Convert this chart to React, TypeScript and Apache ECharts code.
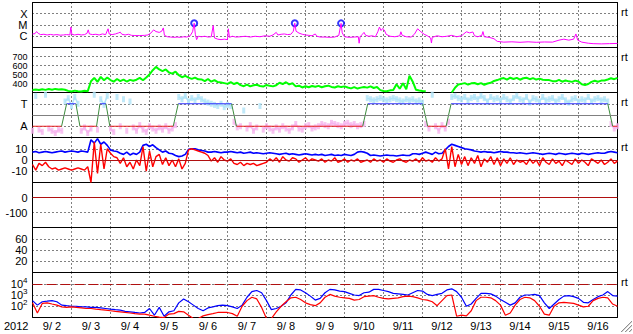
import React, { useEffect, useRef } from "react";
import * as echarts from "echarts";

const FONT = "'Liberation Sans', Arial, sans-serif";

// ---------- labels ----------
const dayLabels = ["9/ 2", "9/ 3", "9/ 4", "9/ 5", "9/ 6", "9/ 7", "9/ 8", "9/ 9", "9/10", "9/11", "9/12", "9/13", "9/14", "9/15", "9/16"];
const yearLabel = "2012";
const xrayClassLabels: Record<string, string> = { "-4": "X", "-5": "M", "-6": "C" };
const sideLabel = "rt";

// ---------- data ----------
// X-ray flux [hour since 9/2 00UT, W/m^2]
const xrayFlux: [number, number][] = [
  [0, 1.6e-6], [1.5, 1.7e-6], [2.5, 2.6e-6], [3.5, 1.8e-6], [5, 1.4e-6], [7, 1.5e-6], [9, 1.3e-6], [11, 1.45e-6], [13, 1.3e-6], [15, 1.4e-6],
  [17, 1.25e-6], [19, 1.3e-6], [21, 1.4e-6], [23, 1.3e-6], [23.6, 6.5e-6], [24.2, 1.5e-6], [26, 1.3e-6], [28, 1.5e-6], [30, 1.3e-6], [32, 1.4e-6],
  [33.5, 1.8e-6], [34.3, 3.7e-6], [35, 1.6e-6], [37, 1.4e-6], [39, 1.5e-6], [41, 1.3e-6], [43, 1.6e-6], [45, 1.4e-6], [46.5, 4.6e-6], [47.2, 1.6e-6],
  [49, 1.4e-6], [51, 1.6e-6], [53, 2.0e-6], [54, 2.3e-6], [55, 1.5e-6], [57, 1.3e-6], [59, 1.5e-6], [61, 1.2e-6], [63, 1.15e-6], [66, 1.15e-6],
  [69, 1.2e-6], [71, 1.3e-6], [73, 2.0e-6], [74.5, 3.7e-6], [76, 2.6e-6], [78, 2.2e-6], [79.5, 2.8e-6], [80.5, 5.5e-6], [81.2, 1.2e-6], [83, 9e-7],
  [85, 8.5e-7], [87, 8e-7], [89, 8.5e-7], [91, 8e-7], [93, 9e-7], [95, 8.5e-7], [97, 1.1e-6], [98.5, 2.5e-6], [99.5, 1.45e-5], [100.2, 1.5e-6],
  [101, 5e-7], [102, 1.0e-6], [104, 9e-7], [106, 1.0e-6], [108, 8.5e-7], [110, 9e-7], [111.2, 9e-6], [112, 7e-7], [114, 5.5e-7], [116, 5e-7],
  [118, 5.5e-7], [120, 5e-7], [120.5, 4.6e-6], [121.2, 8e-7], [123, 1.0e-6], [125, 8.5e-7], [128, 9e-7], [131, 1.0e-6], [134, 8.5e-7], [137, 1.0e-6],
  [140, 9e-7], [143, 1.1e-6], [146, 1.0e-6], [148, 1.3e-6], [150, 2.2e-6], [151, 1.3e-6], [153, 1.5e-6], [155, 1.6e-6], [157, 1.4e-6], [159, 1.5e-6],
  [160.5, 2.8e-6], [161.4, 1.45e-5], [162.2, 2.8e-6], [164, 1.9e-6], [166, 1.5e-6], [168, 1.3e-6], [170, 1.2e-6], [172, 1.1e-6], [174, 1.6e-6], [175, 1.0e-6],
  [177, 8.5e-7], [180, 8.5e-7], [183, 8e-7], [186, 8.5e-7], [188.5, 1.2e-6], [189.9, 1.4e-5], [190.6, 2e-6], [192, 9e-7], [195, 8e-7], [198, 8.5e-7],
  [200.5, 9e-7], [201, 2.4e-7], [201.6, 9e-7], [203, 1.5e-6], [204, 2.2e-6], [205, 1.2e-6], [207, 1e-6], [209, 1.1e-6], [211, 9e-7], [212.5, 2.5e-6],
  [213.5, 6.5e-6], [214.5, 3.2e-6], [215.5, 5e-6], [216.5, 3.6e-6], [217.6, 1.5e-6], [220, 1.0e-6], [223, 9e-7], [226, 1.1e-6], [226.7, 2.5e-6], [227.5, 1.2e-6],
  [230, 9e-7], [233, 8.5e-7], [235, 1.5e-6], [237, 4.6e-6], [239, 2.5e-6], [241, 1.5e-6], [243, 1.1e-6], [245, 7e-7], [245.5, 2.5e-7], [246, 8e-7],
  [249, 1.1e-6], [252, 9e-7], [255, 1.0e-6], [258, 1.2e-6], [261, 9e-7], [264, 1.1e-6], [267, 2.5e-6], [269, 2.0e-6], [271, 2.4e-6], [272, 1.1e-6],
  [274, 9e-7], [276.5, 1.2e-6], [277.2, 2.6e-6], [278, 9e-7], [281, 8e-7], [284, 6e-7], [286, 3.5e-7], [290, 3e-7], [295, 3.2e-7], [300, 2.9e-7],
  [305, 3.2e-7], [310, 2.9e-7], [315, 3.1e-7], [320, 3.0e-7], [324, 4.5e-7], [327, 5.5e-7], [330, 4.5e-7], [333, 5.5e-7], [334.4, 1.6e-6], [335.5, 4.5e-7],
  [338, 3e-7], [342, 2.4e-7], [345, 2.2e-7], [350, 2.1e-7], [355, 2.2e-7], [360, 2.3e-7],
];
// M-class flare peaks [hour, W/m^2]
const flareEvents: [number, number][] = [[99.5, 1.45e-5], [161.4, 1.45e-5], [189.9, 1.4e-5]];

// Solar wind speed km/s, every 2 hours from 9/2 00UT (null = no data)
const windSpeed: (number | null)[] = [
  328, 334, 327, 336, 329, 338, 331, 340, 333, 337, 330,
  318, 312, 321, 314, 311, 319, 315,
  425, 462, 418, 474, 436, 466,
  438, 420, 450, 426, 444, 422, 440, 430,
  442, 462, 436, 466,
  500, 548, 585, 556, 538, 556,
  522, 510, 532,
  492, 470, 484, 466,
  452, 466, 446,
  445, 426, 450, 420, 438, 416, 412,
  404, 396, 414, 394, 408,
  382, 370, 388, 368, 380, 386, 372, 366, 384, 374, 368, 380,
  408, 394, 414, 390, 402,
  368, 376, 356, 370, 358, 372,
  364, 374, 358, 370, 376, 362, 356, 370, 360, 368,
  356, 346, 360, 344, 354,
  362, 354, 368, 350, 362,
  326, 316, 314, 324, 328,
  392, 342, 404, 336,
  486, 420,
  330, 322, 316, 314,
  null, null, null, null, null, null, null,
  300, 352, 388,
  396, 404, 388, 402, 406, 392, 404, 386, 400, 408,
  428, 438,
  452, 460, 444, 464, 450, 462, 442, 458, 464, 448, 460, 444, 454, 442, 438,
  438, 426, 424, 440, 420, 434, 424, 418, 432, 422,
  392, 384, 394,
  418, 430, 420, 432, 434,
  444, 458, 448, 462,
];

// IMF direction indicator (+ toward / - away), every 2 hours
const imfPhi: number[] = [
  -0.7, 0.85, -0.65, -0.75, 0.9, -0.6, -0.7, -0.8, -0.65, -0.7,
  0.6, 0.75, 0.4, 0.8, 0.5,
  -0.7, -0.55, -0.8, -0.6, 0.9, -0.65,
  0.7, 0.45, 0.85,
  -0.6, -0.75, 0.8, -0.5, 0.7, -0.7, 0.6,
  -0.55, -0.7, -0.45, -0.65, -0.75, -0.5, -0.6, -0.7, -0.55, -0.65, -0.5, -0.7, -0.6, -0.45,
  0.8, 0.7, 0.85, 0.6, 0.75, 0.65, 0.8, 0.7, 0.6, 0.55, 0.5, 0.45, 0.4, 0.5, 0.35, 0.45, 0.4,
  -0.3, -0.55, -0.5, 0.2, -0.6, -0.45, -0.7, -0.55, 0.4, -0.65, -0.5, -0.6, -0.7, -0.55, -0.65, -0.5, -0.6, -0.7, -0.55, -0.4,
  -0.6, -0.65, -0.5, -0.45, -0.6, -0.55, -0.5, -0.4, -0.45, -0.5, -0.35, -0.4, -0.45, -0.5, -0.4, -0.35, -0.45, -0.4, -0.5, -0.45, -0.4,
  0.75, 0.7, 0.65, 0.7, 0.75, 0.7, 0.65, 0.7, 0.75, 0.7, 0.65, 0.6, 0.7, 0.65, 0.7, 0.6, 0.65, 0.55,
  -0.4, -0.6, 0.9, -0.5, -0.7, -0.45, -0.6, -0.3,
  0.8, 0.85, 0.75, 0.7, 0.8, 0.65, 0.75, 0.8, 0.7, 0.85, 0.75, 0.6, 0.8, 0.7, 0.75, 0.65, 0.8, 0.7, 0.6, 0.75,
  0.85, 0.7, 0.65, 0.8, 0.55, 0.75, 0.7, 0.6, 0.8, 0.65, 0.7, 0.75, 0.6, 0.7, 0.8, 0.65, 0.55, 0.7, 0.75, 0.6,
  0.7, 0.65, 0.8, 0.6, 0.7, 0.75, 0.65, 0.7, 0.6,
  -0.4, -0.6, -0.5,
];

// Sector polarity plateaus (hours)
const sectorStart = [0, 21, 29.2, 41.5, 47.6, 89.7, 125.5, 206.3, 243.2, 257.6, 357];
const sectorEnd = [17.9, 26.7, 39.4, 45.2, 86.6, 122.5, 203.2, 240.1, 254.5, 354, 360];
const sectorPolarity = ["A", "T", "A", "T", "A", "T", "A", "T", "A", "T", "A"];
const polarityLevel: Record<string, number> = { T: 0.5, A: -0.5 };

// IMF Bz (nT), every 2 hours
const imfBz: number[] = [
  -4, -9, -3, -5, -2,
  -6, -8, -7, -9, -8, -7, -8, -9, -8, -7, -8, -9, -6,
  -20, 16, -12, 14, -8, 10,
  6, 3, 2,
  -3, 2, -6, -2, -8, 0, -5,
  12, -10, 8, -6, 3,
  5, -4, 2, -5, 0,
  -6, 1, -8, -3,
  9, 10, 9, 8, 7, 6,
  4, -1, 2, -2, 3, 0, -1, 1,
  -3, -4, -2, -5, -3, -4, -3, -5, -4, -3, -2,
  1, -1, 2, -2, 3, 0, -1, 2, 1, -2, 0, 2, -1, 1, 0,
  -1, 1, -2, 0, -1, 2, -2, -1, 1, -2, 0, -1, 1, -2, -1, 0, -2, 1, -1, 0, -2, 1, -1, -2, 0, 1, -1, -2, 0, -1,
  1, -2, 2, -1, 0, -2, 2, -1, 1,
  10, -8, 12, -6, 5,
  -4, 3, -5, 2, -3, 4, -6, 1, -2, 3, -4, 2, -5, 1, -3, 2, -4, 0, -2,
  -1, -4, 1, -3, 0, -5, 2, -2, -4, 1, -3, -1, -5, 0, -2, -4, 1, -3, 0, -2, -5, 1, -1, -3, 0, -4, -2, 1, -3, -1,
];
// IMF Bt (nT), every 2 hours
const imfBt: number[] = [
  7, 7.5, 6.5, 7, 7.5, 7, 6.5, 7, 7.5, 8, 7, 7.5, 8, 7.5, 7, 8, 7.5, 7,
  18, 15, 19, 14, 16, 13,
  9, 8, 7.5,
  6, 5, 7, 4.5, 6, 5, 7,
  13, 14, 12, 13.5, 11,
  9, 7, 8, 6, 5.5,
  4, 3, 3.5, 5,
  9.5, 10, 10, 9, 8.5, 8,
  7, 7, 7.5, 7, 6.5, 7, 7, 7.5,
  7, 6.5, 7, 6, 6.5, 7, 6, 6.5, 6, 5.5, 6, 6.5, 6, 5.5, 5, 5.5, 6, 5, 5.5, 5, 4.5, 5, 5.5, 5, 4.5, 5,
  4.5, 5, 4, 4.5, 5, 4, 4.5, 4, 5, 4.5, 4, 5,
  7, 7.5, 7, 6,
  4, 4.5, 4, 3.5, 4, 4.5, 4, 4, 3.5, 4, 4.5, 4, 4,
  5.5, 5.5, 5, 6, 7, 6, 5, 7, 5.5, 6,
  9, 12, 14, 13,
  12, 11, 10, 9.5, 9,
  8, 7.5, 7, 7.5, 7, 7, 6.5, 7, 7.5, 7, 7, 6.5,
  6.5, 6, 6.5, 6, 5.5, 6, 6.5, 6, 5.5, 5, 5.5, 6, 5.5, 5, 6, 5.5, 5, 5.5, 6, 5.5, 5, 6, 5.5, 5, 5.5, 6, 6.5, 6, 6,
  7, 7.5, 7, 6.5,
];

// Electron flux, every 3 hours (higher curve blue, lower curve red)
const electronBlue: number[] = [
  316, 126, 250, 280, 316, 250, 126, 112, 100, 100, 89, 89, 79, 79, 71, 63, 56, 50, 45, 35,
  32, 28, 25, 28, 63, 16, 79, 13, 32, 40, 200, 447, 250, 126, 63, 40, 71, 89, 112, 126,
  112, 89, 63, 126, 631, 2000, 2500, 1585, 316, 50, 63, 100, 200, 1000, 3162, 2818, 1585, 794, 355,
  500, 1585, 3162, 2818, 2239, 2000, 1413, 1000, 891, 1585, 1778, 3162, 3162, 2512, 2000, 1413, 1259, 1122, 1000, 1585,
  2512, 2239, 1122, 891, 1122, 1413, 2818, 3548, 2000, 631, 100, 158, 501, 1413, 1413, 1259, 794, 398, 224, 126,
  200, 631, 1000, 1000, 1122, 891, 200, 63, 158, 398, 794, 891, 708, 501, 224, 200, 398, 708, 1000, 2000,
  891, 794,
];
const electronRed: number[] = [
  200, 25, 178, 200, 158, 126, 89, 79, 89, 79, 71, 63, 63, 56, 50, 45, 40, 35, 32, 28,
  25, 22, 20, 20, 16, 13, 11, 10, 20, 22, 35, 32, 16, 8, 8, 14, 18, 22, 28, 28,
  28, 22, 13, 100, 316, 631, 447, 79, 8, 8, 32, 100, 250, 562, 631, 398, 200, 141, 112,
  200, 631, 1122, 794, 631, 562, 501, 355, 398, 708, 794, 891, 631, 501, 447, 501, 562, 708, 794, 708,
  562, 398, 355, 251, 112, 316, 891, 1000, 13, 16, 14, 40, 316, 631, 631, 562, 316, 126, 16, 25,
  126, 398, 631, 562, 316, 100, 20, 16, 100, 200, 224, 200, 178, 126, 89, 100, 316, 501, 631, 562,
  158, 100,
];

// ---------- layout ----------
const PANEL_TOPS = [2.5, 47.5, 92.5, 137.5, 182.5, 227.5, 272.5];
const PANEL_H = 45;
const RT_PANELS = [0, 1, 2, 3, 6];

function series2h(vals: (number | null)[]) {
  return vals.map((v, i) => [i * 2, v]);
}
function series3h(vals: number[]) {
  return vals.map((v, i) => [i * 3, v]);
}

function buildOption() {
  const dotted = { color: "#000", type: [1, 3], width: 1 };
  const labelBase = { color: "#000", fontSize: 11, fontFamily: FONT, margin: 5 };

  const grid = PANEL_TOPS.map((t) => ({
    left: 32.5, right: 15.5, top: t, height: PANEL_H,
    show: true, borderColor: "#000", borderWidth: 1, backgroundColor: "transparent",
  }));

  const xAxis: any[] = PANEL_TOPS.map((_, i) => ({
    type: "value", gridIndex: i, min: 0, max: 360, interval: 24, position: "bottom",
    axisLine: { show: false }, axisTick: { show: false }, axisLabel: { show: false },
    splitLine: { show: true, lineStyle: dotted },
  }));
  xAxis.push({
    type: "category", gridIndex: 6, data: dayLabels, boundaryGap: true, position: "bottom",
    axisLine: { show: false }, axisTick: { show: false }, splitLine: { show: false },
    axisLabel: { ...labelBase, margin: 3, interval: 0 },
  });

  const yBase = (i: number) => ({
    gridIndex: i, axisLine: { show: false }, axisTick: { show: false },
    splitLine: { show: true, lineStyle: dotted },
  });

  const yAxis: any[] = [
    { ...yBase(0), type: "log", logBase: 10, min: 1e-7, max: 1e-3,
      axisLabel: { ...labelBase, formatter: (v: number) => xrayClassLabels[String(Math.round(Math.log10(v)))] ?? "" } },
    { ...yBase(1), type: "value", min: 300, max: 800, interval: 100,
      axisLabel: { ...labelBase, fontSize: 9, lineHeight: 9, formatter: (v: number) => (v > 300 && v < 800 ? String(v) : "") } },
    { ...yBase(2), type: "value", min: -1, max: 1, interval: 0.5,
      axisLabel: { ...labelBase, formatter: (v: number) => (v === 0.5 ? "T" : v === -0.5 ? "A" : "") } },
    { ...yBase(3), type: "value", min: -20, max: 20, interval: 10,
      axisLabel: { ...labelBase, formatter: (v: number) => (Math.abs(v) < 20 ? String(v) : "") } },
    { ...yBase(4), type: "value", min: -200, max: 100, interval: 100,
      axisLabel: { ...labelBase, formatter: (v: number) => (v === 0 || v === -100 ? String(v) : "") } },
    { ...yBase(5), type: "value", min: 0, max: 80, interval: 20,
      axisLabel: { ...labelBase, formatter: (v: number) => (v > 0 && v < 80 ? String(v) : "") } },
    { ...yBase(6), type: "log", logBase: 10, min: 10, max: 1e5,
      axisLabel: {
        ...labelBase,
        formatter: (v: number) => {
          const e = Math.round(Math.log10(v));
          return e >= 2 && e <= 4 ? `{b|10}{s|${e}}` : "";
        },
        rich: {
          b: { fontSize: 11, fontFamily: FONT, color: "#000", lineHeight: 15, verticalAlign: "middle" },
          s: { fontSize: 8, fontFamily: FONT, color: "#000", lineHeight: 8, verticalAlign: "top" },
        },
      } },
  ];

  const hline = (y: number, color: string, type: any = "solid") => ({
    silent: true, symbol: ["none", "none"], label: { show: false }, animation: false,
    lineStyle: { color, type, width: 1 }, emphasis: { disabled: true },
    data: [{ yAxis: y }],
  });

  // sector line segments
  const redSeg: any[] = [];
  const blueSeg: any[] = [];
  const greenSeg: any[] = [];
  sectorStart.forEach((s, i) => {
    const lv = polarityLevel[sectorPolarity[i]];
    const target = sectorPolarity[i] === "A" ? redSeg : blueSeg;
    target.push([s, lv], [sectorEnd[i], lv], [sectorEnd[i], null]);
    if (i < sectorStart.length - 1) {
      const nlv = polarityLevel[sectorPolarity[i + 1]];
      greenSeg.push([sectorEnd[i], lv], [sectorStart[i + 1], nlv], [sectorStart[i + 1], null]);
    }
  });

  const phiPairs = series2h(imfPhi);
  const toward = phiPairs.filter((p) => (p[1] as number) > 0);
  const away = phiPairs.filter((p) => (p[1] as number) < 0);
  const towardLine = phiPairs.map((p) => [p[0], (p[1] as number) > 0 ? p[1] : null]);
  const awayLine = phiPairs.map((p) => [p[0], (p[1] as number) < 0 ? p[1] : null]);

  const line = (xi: number, data: any[], color: string, width = 1, extra: any = {}) => ({
    type: "line", xAxisIndex: xi, yAxisIndex: xi, data, showSymbol: false, symbol: "none",
    lineStyle: { color, width }, itemStyle: { color }, clip: true, silent: true, ...extra,
  });

  const TOWARD_C = "#b0e4f8";
  const AWAY_C = "#f6b4ee";

  const series: any[] = [
    line(0, xrayFlux, "#ff00ff", 1),
    {
      type: "scatter", xAxisIndex: 0, yAxisIndex: 0, data: flareEvents, symbol: "emptyCircle", symbolSize: 6,
      itemStyle: { color: "#0000ff", borderColor: "#0000ff", borderWidth: 1.2 }, silent: true,
    },
    line(1, series2h(windSpeed), "#00ff00", 2),
    {
      type: "scatter", xAxisIndex: 2, yAxisIndex: 2, data: toward, symbol: "rect", symbolSize: [3, 6],
      itemStyle: { color: TOWARD_C }, silent: true,
    },
    {
      type: "scatter", xAxisIndex: 2, yAxisIndex: 2, data: away, symbol: "rect", symbolSize: [3, 6],
      itemStyle: { color: AWAY_C }, silent: true,
    },
    line(2, towardLine, TOWARD_C, 1.5),
    line(2, awayLine, AWAY_C, 1.5),
    line(2, redSeg, "#e82020", 1, { markLine: hline(0, "#808080") }),
    line(2, blueSeg, "#3030ff", 1),
    line(2, greenSeg, "#3c8c3c", 1),
    line(3, series2h(imfBt), "#0000ff", 1.6, { markLine: hline(0, "#b01010") }),
    line(3, series2h(imfBz), "#ff0000", 1.4),
    line(4, [], "#ff0000", 1, { markLine: hline(0, "#b01010") }),
    line(6, series3h(electronBlue), "#0000ff", 1.2, { markLine: hline(10000, "#b01010", [10, 4]) }),
    line(6, series3h(electronRed), "#ff0000", 1.2),
  ];

  const graphic: any[] = RT_PANELS.map((p) => ({
    type: "text", x: 621, y: PANEL_TOPS[p] + 9, silent: true,
    style: { text: sideLabel, fill: "#000", fontSize: 11, fontFamily: FONT, align: "left", verticalAlign: "middle" },
  }));
  graphic.push({
    type: "text", x: 4, y: 326, silent: true,
    style: { text: yearLabel, fill: "#000", fontSize: 11, fontFamily: FONT, align: "left", verticalAlign: "middle" },
  });
  // window resize grip
  [0, 4, 8].forEach((d) => {
    graphic.push({ type: "line", silent: true, shape: { x1: 632, y1: 321 + d, x2: 621 + d, y2: 332 }, style: { stroke: "#909090", lineWidth: 1 } });
    graphic.push({ type: "line", silent: true, shape: { x1: 632, y1: 322 + d, x2: 622 + d, y2: 332 }, style: { stroke: "#d8d8d8", lineWidth: 1 } });
  });

  return {
    animation: false,
    backgroundColor: "#ffffff",
    textStyle: { fontFamily: FONT },
    grid,
    xAxis,
    yAxis,
    series,
    graphic,
  };
}

export default function App() {
  const ref = useRef<HTMLDivElement>(null);
  useEffect(() => {
    if (!ref.current) return;
    const chart = echarts.init(ref.current, null, { renderer: "svg" });
    chart.setOption(buildOption());
    return () => chart.dispose();
  }, []);
  return (
    <div
      ref={ref}
      style={{ position: "fixed", left: 0, top: 0, width: 633, height: 334, background: "#fff" }}
    />
  );
}
